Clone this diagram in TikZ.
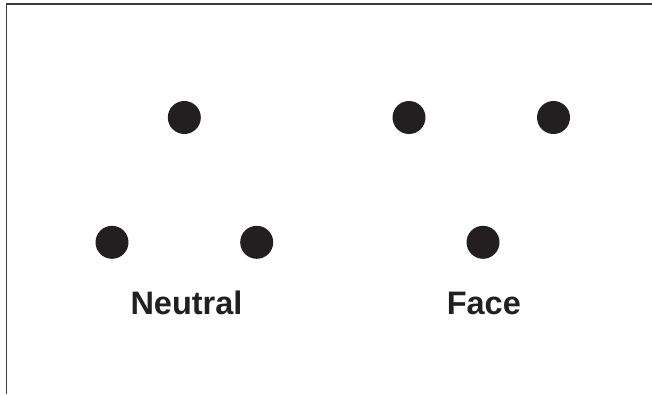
\documentclass[tikz,border=0pt]{standalone}
\usepackage{fontspec}
\setmainfont{Liberation Sans}
\definecolor{dotc}{HTML}{231F20}
\definecolor{framec}{HTML}{3A3A3A}
\begin{document}
\begin{tikzpicture}[x=1pt,y=1pt,
  dot/.style={circle,fill=dotc,inner sep=0pt,minimum size=33pt},
  lbl/.style={font=\fontsize{32.5}{38}\selectfont\bfseries,text=dotc,anchor=base,inner sep=0pt},
  frameline/.style={draw=framec,line width=1.6pt}]
\useasboundingbox (0,0) rectangle (652,394);
\coordinate (tl) at (6.5,390);
\coordinate (tr) at (652,390);
\coordinate (bl) at (6.5,0);
\draw[frameline] (bl) -- (tl) -- (tr);
% Neutral
\node[dot] (n1) at (184.3,276.5) {};
\node[dot] (n2) at (112,151.7) {};
\node[dot] (n3) at (256.7,151.7) {};
% Face
\node[dot] (f1) at (409,276.5) {};
\node[dot] (f2) at (553.5,276.5) {};
\node[dot] (f3) at (483,151.7) {};
\node[lbl] (ln) at (186.5,79.7) {Neutral};
\node[lbl] (lf) at (483.8,79.7) {Face};
\end{tikzpicture}
\end{document}
